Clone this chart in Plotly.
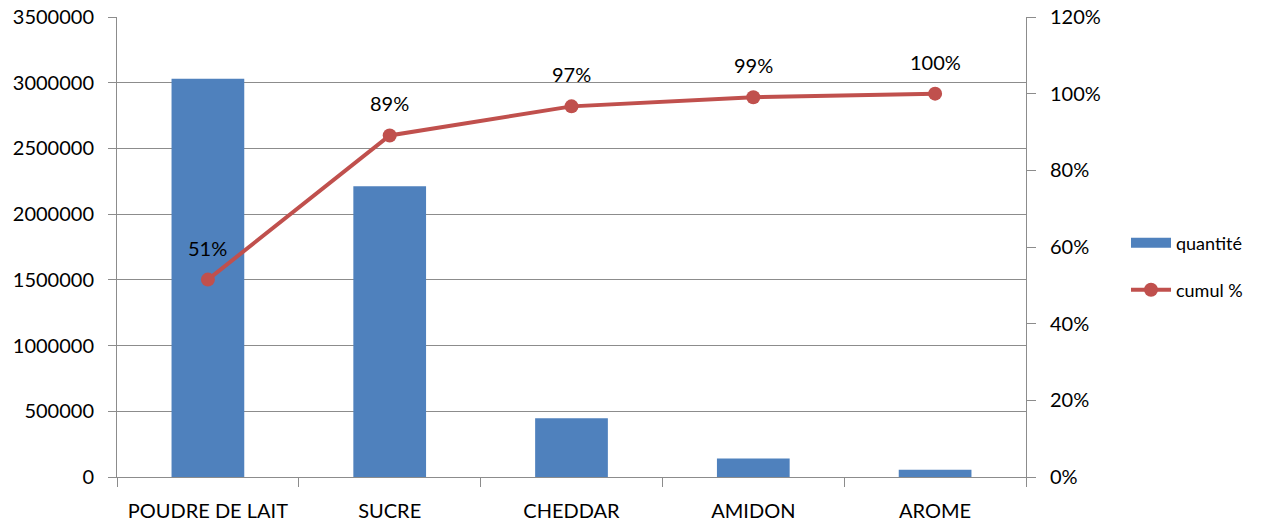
import plotly.graph_objects as go

# Pareto des matières premières
categories = ["POUDRE DE LAIT", "SUCRE", "CHEDDAR", "AMIDON", "AROME"]
quantite = [3030000, 2212000, 447000, 140000, 55000]

left_ticks = [0, 500000, 1000000, 1500000, 2000000, 2500000, 3000000, 3500000]
right_ticks = [0, 0.2, 0.4, 0.6, 0.8, 1.0, 1.2]

total = sum(quantite)
cumul = []
running = 0
for q in quantite:
    running += q
    cumul.append(running / total)

FONT = "Lato"
BLUE = "#4F81BD"
RED = "#C0504D"
GRID = "#8C8C8C"

fig = go.Figure()

fig.add_trace(go.Bar(
    x=categories, y=quantite, name="quantité",
    marker=dict(color=BLUE, line=dict(width=0)),
    showlegend=False,
))
# legend key for the bars (wide swatch)
fig.add_trace(go.Scatter(
    x=[None], y=[None], mode="lines", name="quantité",
    line=dict(color=BLUE, width=13), legend="legend",
))
fig.add_trace(go.Scatter(
    x=categories, y=cumul, name="cumul %", yaxis="y2",
    mode="lines+markers",
    line=dict(color=RED, width=4),
    marker=dict(color=RED, size=14),
    legend="legend2",
))

for c, v in zip(categories, cumul):
    fig.add_annotation(
        x=c, y=v, yref="y2", text=f"{round(v * 100)}%",
        showarrow=False, yshift=32,
        font=dict(family=FONT, size=20, color="#000000"),
    )

fig.update_layout(
    template="none",
    width=1274, height=522,
    margin=dict(l=117, r=248, t=17, b=45, autoexpand=False),
    paper_bgcolor="white", plot_bgcolor="white",
    font=dict(family=FONT, size=20, color="#000000"),
    bargap=0.6,
    xaxis=dict(
        type="category", showline=True, linecolor=GRID, linewidth=1,
        ticks="outside", tickson="boundaries", ticklen=9, tickcolor=GRID,
        showgrid=False, ticklabelstandoff=16, automargin=False,
    ),
    yaxis=dict(
        range=[0, 3500000], tickvals=left_ticks,
        ticktext=[str(t) for t in left_ticks],
        showline=True, linecolor=GRID, linewidth=1,
        ticks="outside", ticklen=8, tickcolor=GRID,
        showgrid=True, gridcolor=GRID, gridwidth=1,
        zeroline=False, ticklabelstandoff=10, automargin=False,
    ),
    yaxis2=dict(
        overlaying="y", side="right", range=[0, 1.2],
        tickvals=right_ticks, ticktext=[f"{round(t * 100)}%" for t in right_ticks],
        showline=True, linecolor=GRID, linewidth=1,
        ticks="outside", ticklen=9, tickcolor=GRID,
        showgrid=False, zeroline=False, ticklabelstandoff=10, automargin=False,
    ),
    legend=dict(
        x=1.11, y=(477 - 243) / 460, xanchor="left", yanchor="middle",
        bgcolor="rgba(0,0,0,0)", font=dict(size=18), itemwidth=40,
    ),
    legend2=dict(
        x=1.11, y=(477 - 290) / 460, xanchor="left", yanchor="middle",
        bgcolor="rgba(0,0,0,0)", font=dict(size=18), itemwidth=40,
    ),
)

fig.write_html("out.html")
